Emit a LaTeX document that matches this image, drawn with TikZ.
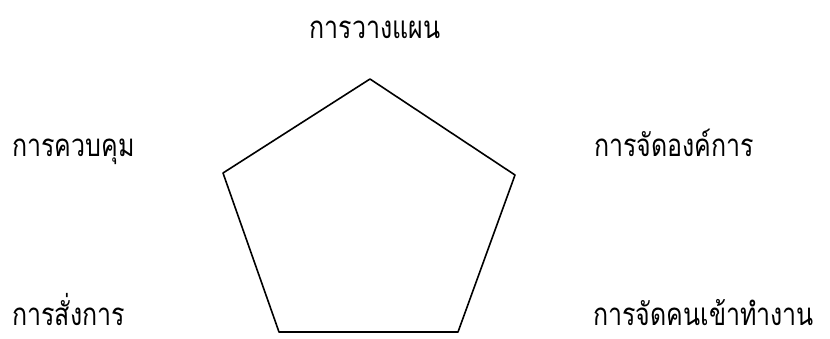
\documentclass[tikz,border=0pt]{standalone}
\usepackage{fontspec}
\newfontfamily\thaifont[Script=Thai]{Loma}
\newcommand{\tall}[1]{\scalebox{1}[1.25]{#1}}
\begin{document}
\begin{tikzpicture}[x=1pt,y=-1pt,
  lbl/.style={inner sep=0pt,font=\thaifont\fontsize{25}{30}\selectfont},
  edge/.style={draw=black,line width=1.6pt,line join=round}]
\useasboundingbox (0,0) rectangle (830,338);
\coordinate (p1) at (370,79);
\coordinate (p2) at (515,175);
\coordinate (p3) at (458,332);
\coordinate (p4) at (279,332);
\coordinate (p5) at (223,173);
\draw[edge] (p1) -- (p2) -- (p3) -- (p4) -- (p5) -- cycle;
\node[lbl,anchor=base] (plan) at (375,38) {\tall{การวางแผน}};
\node[lbl,anchor=base west] (ctrl) at (12,156) {\tall{การควบคุม}};
\node[lbl,anchor=base west] (org) at (594,156) {\tall{การจัดองค์การ}};
\node[lbl,anchor=base west] (cmd) at (12,325) {\tall{การสั่งการ}};
\node[lbl,anchor=base west] (staff) at (593,325) {\tall{การจัดคนเข้าทำงาน}};
\end{tikzpicture}
\end{document}
